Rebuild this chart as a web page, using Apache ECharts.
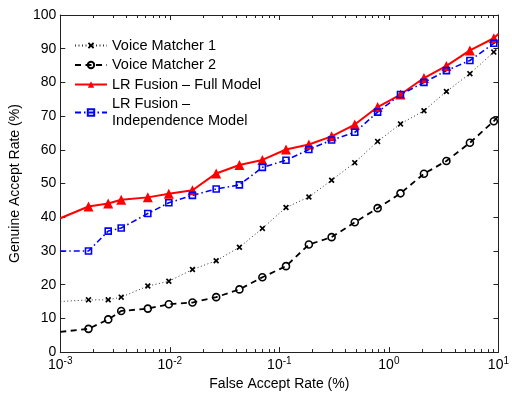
<!DOCTYPE html>
<html><head><meta charset="utf-8">
<script src="https://cdn.jsdelivr.net/npm/echarts@6/dist/echarts.min.js"></script>
<style>html,body{margin:0;padding:0;background:#fff}#c{width:512px;height:396px}</style>
</head><body><div id="c"></div>
<script>
// False accept rate (%) at each marker
const far = [0.00181, 0.00274, 0.0036, 0.0063, 0.0098, 0.0161, 0.0265, 0.0432, 0.070, 0.115, 0.186, 0.30, 0.488, 0.789, 1.276, 2.09, 3.35, 5.49, 9.07];
// Genuine accept rate (%)
const voice1 = [15.5, 15.5, 16.3, 19.6, 21.0, 24.5, 27.1, 31.1, 36.7, 42.9, 46.0, 51.0, 56.2, 62.5, 67.7, 71.6, 77.3, 82.6, 89.0];
const voice2 = [6.9, 9.7, 12.2, 12.9, 14.2, 14.7, 16.3, 18.6, 22.2, 25.5, 31.9, 34.1, 38.5, 42.7, 47.1, 52.9, 56.7, 62.1, 68.5];
const lrFull = [43.2, 44.1, 45.2, 45.9, 47.0, 48.0, 53.0, 55.5, 57.0, 60.1, 61.6, 64.0, 67.5, 72.7, 76.4, 81.3, 84.9, 89.5, 93.1];
const lrIndep = [30.0, 35.9, 36.8, 41.1, 44.3, 46.5, 48.4, 49.6, 54.8, 56.9, 60.1, 62.9, 65.2, 71.2, 76.4, 80.0, 83.5, 86.5, 91.6];
// line values where the curves leave the plot at its left (FAR=1e-3) and right (FAR=10) edges
const edgeFar = [0.001, 10];
const voice1Edge = [15.0, 90.5];
const voice2Edge = [6.0, 70.0];
const lrFullEdge = [39.7, 94.4];
const lrIndepEdge = [30.0, 92.5];
const names = ['Voice Matcher 1', 'Voice Matcher 2', 'LR Fusion \u2013 Full Model', 'LR Fusion \u2013\nIndependence Model'];
const yTicks = [0, 10, 20, 30, 40, 50, 60, 70, 80, 90, 100];

function build(vals, edge) {
  const d = [{value: [edgeFar[0], edge[0]], symbol: 'none'}];
  far.forEach((x, i) => d.push([x, vals[i]]));
  d.push({value: [edgeFar[1], edge[1]], symbol: 'none'});
  return d;
}
const FONT = 'Liberation Sans';
const axisCol = '#222';
const chart = echarts.init(document.getElementById('c'), null, {renderer: 'canvas'});
const xCommon = {
  type: 'log', logBase: 10, min: 0.001, max: 10,
  axisLine: {show: true, onZero: false, lineStyle: {color: axisCol, width: 1}},
  axisTick: {show: true, inside: true, length: 5, lineStyle: {color: axisCol}},
  splitLine: {show: false}
};
const yCommon = {
  type: 'value', min: 0, max: 100, interval: 10,
  axisLine: {show: true, onZero: false, lineStyle: {color: axisCol, width: 1}},
  axisTick: {show: true, inside: true, length: 5, lineStyle: {color: axisCol}},
  splitLine: {show: false}
};
const option = {
  animation: false,
  backgroundColor: '#fff',
  textStyle: {fontFamily: FONT},
  grid: {left: 57, right: 9, top: 15, bottom: 42, containLabel: false},
  legend: {
    orient: 'vertical', left: 69, top: 32,
    itemWidth: 32, itemHeight: 8, itemGap: 2.5,
    textStyle: {fontFamily: FONT, fontSize: 14.5, color: '#000', lineHeight: 17},
    data: names
  },
  xAxis: [
    Object.assign({}, xCommon, {
      position: 'bottom',
      name: 'False Accept Rate (%)', nameLocation: 'middle', nameGap: 18,
      nameTextStyle: {fontFamily: FONT, fontSize: 14, color: '#000'},
      axisLabel: {
        show: true, margin: 4, color: '#000', fontFamily: FONT,
        formatter: function (v) {
          const e = Math.round(Math.log10(v));
          return '{b|10}{s|' + e + '}';
        },
        rich: {
          b: {fontFamily: FONT, fontSize: 14, color: '#000'},
          s: {fontFamily: FONT, fontSize: 10, color: '#000', padding: [0, 0, 8, 0]}
        }
      }
    }),
    Object.assign({}, xCommon, {position: 'top', axisLabel: {show: false}})
  ],
  yAxis: [
    Object.assign({}, yCommon, {
      position: 'left',
      name: 'Genuine Accept Rate (%)', nameLocation: 'middle', nameGap: 36,
      nameTextStyle: {fontFamily: FONT, fontSize: 14, color: '#000'},
      axisLabel: {show: true, margin: 4, color: '#000', fontFamily: FONT, fontSize: 14,
        formatter: v => String(v)}
    }),
    Object.assign({}, yCommon, {position: 'right', axisLabel: {show: false}})
  ],
  series: [
    {
      name: names[0], type: 'line', data: build(voice1, voice1Edge),
      symbol: 'path://M2,0 L5,3 L8,0 L10,2 L7,5 L10,8 L8,10 L5,7 L2,10 L0,8 L3,5 L0,2 Z',
      symbolSize: 6,
      lineStyle: {color: '#333', width: 1, type: [1, 2.5]},
      itemStyle: {color: '#000'}
    },
    {
      name: names[1], type: 'line', data: build(voice2, voice2Edge),
      symbol: 'circle', symbolSize: 7,
      lineStyle: {color: '#000', width: 1.8, type: [6, 4.5]},
      itemStyle: {color: 'rgba(0,0,0,0)', borderColor: '#000', borderWidth: 1.6}
    },
    {
      name: names[2], type: 'line', data: build(lrFull, lrFullEdge),
      symbol: 'triangle', symbolSize: 10,
      lineStyle: {color: '#ff0000', width: 2},
      itemStyle: {color: '#ff0000'}
    },
    {
      name: names[3], type: 'line', data: build(lrIndep, lrIndepEdge),
      symbol: 'rect', symbolSize: 6,
      lineStyle: {color: '#0000ff', width: 1.6, type: [6, 3, 1.5, 3]},
      itemStyle: {color: 'rgba(0,0,0,0)', borderColor: '#0000ff', borderWidth: 1.6}
    }
  ]
};
chart.setOption(option);

// minor log ticks (2..9 x 10^k), positioned through the axis scale
const minorVals = [];
for (let k = -3; k <= 0; k++) for (let m = 2; m <= 9; m++) minorVals.push(m * Math.pow(10, k));
const yb = chart.convertToPixel({yAxisIndex: 0}, 0);
const yt = chart.convertToPixel({yAxisIndex: 0}, 100);
const g = [];
minorVals.forEach(v => {
  const x = Math.round(chart.convertToPixel({xAxisIndex: 0}, v)) + 0.5;
  g.push({type: 'line', shape: {x1: x, y1: yb, x2: x, y2: yb - 3}, style: {stroke: axisCol, lineWidth: 1}, silent: true});
  g.push({type: 'line', shape: {x1: x, y1: yt, x2: x, y2: yt + 3}, style: {stroke: axisCol, lineWidth: 1}, silent: true});
});
chart.setOption({graphic: g});
</script></body></html>
